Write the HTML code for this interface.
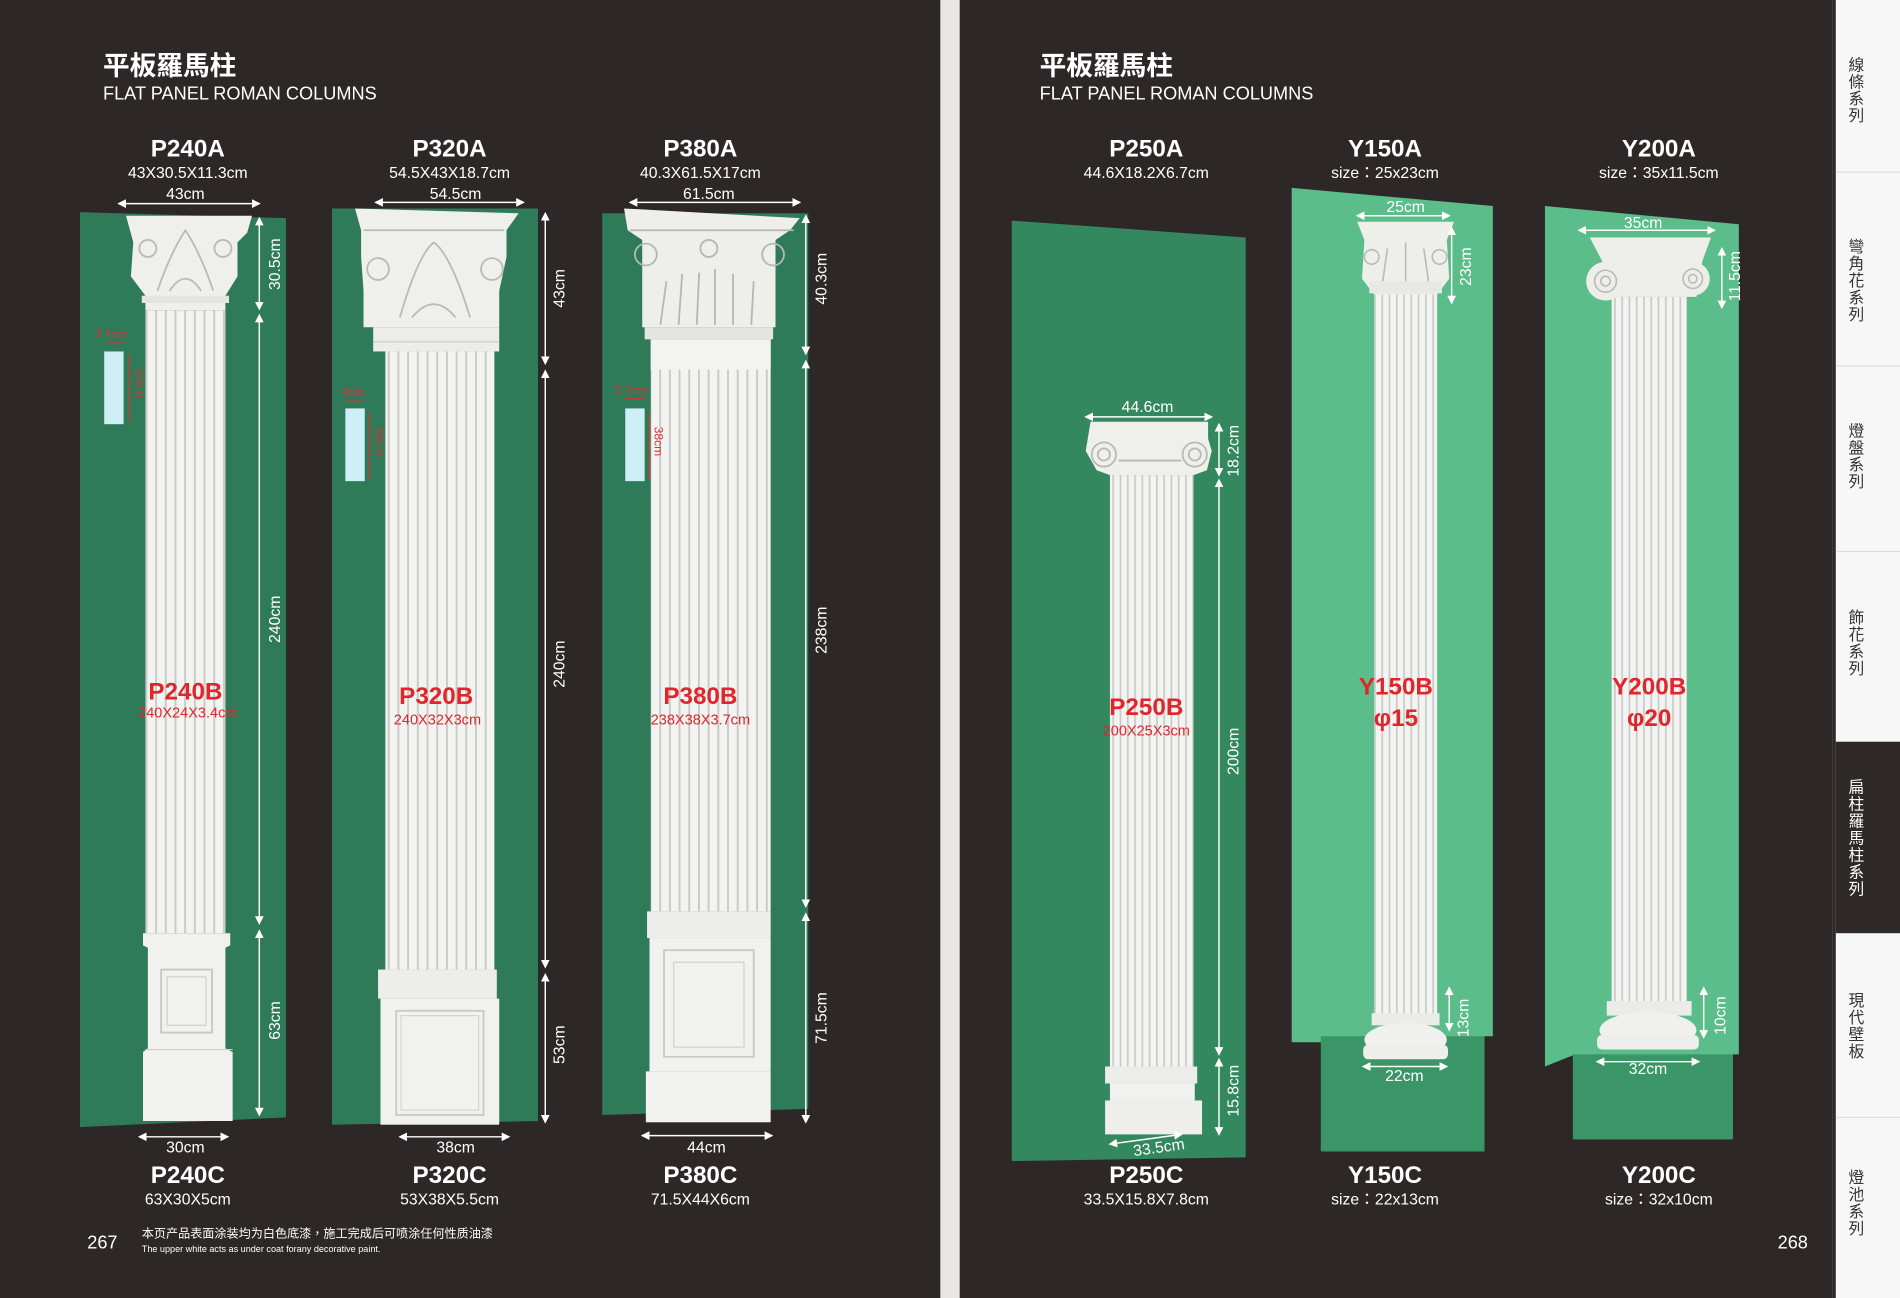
<!DOCTYPE html>
<html><head><meta charset="utf-8"><style>
html,body{margin:0;padding:0;background:#2d2827;}
svg{display:block;}
text{font-family:"Liberation Sans","Noto Sans CJK TC",sans-serif;}
</style></head><body>
<svg width="1900" height="1298" viewBox="0 0 1568 1071" preserveAspectRatio="none" xmlns="http://www.w3.org/2000/svg">
<defs>
<pattern id="fl" patternUnits="userSpaceOnUse" width="8" height="10"><rect width="8" height="10" fill="#f3f3f1"/><rect x="0" width="1.6" height="10" fill="#c9cbc8"/></pattern>
<pattern id="fl2" patternUnits="userSpaceOnUse" width="6" height="10"><rect width="6" height="10" fill="#f3f3f1"/><rect x="0" width="1.4" height="10" fill="#c8cac7"/></pattern>
<marker id="a" markerWidth="6" markerHeight="6" refX="5" refY="3" orient="auto-start-reverse"><path d="M0,0 L6,3 L0,6 Z" fill="#fff"/></marker>
</defs>
<rect width="1568" height="1071" fill="#2d2827"/>
<rect x="776" y="0" width="16" height="1071" fill="#e9e7e4"/>
<rect x="1512" y="0" width="56" height="1071" fill="#f7f7f7"/>
<rect x="1512" y="0" width="3" height="1071" fill="#2d2827"/>
<rect x="1515" y="612" width="53" height="158" fill="#2f2928"/>
<g stroke="#ddd" stroke-width="1"><line x1="1515" y1="142" x2="1568" y2="142"/><line x1="1515" y1="302" x2="1568" y2="302"/><line x1="1515" y1="455" x2="1568" y2="455"/><line x1="1515" y1="922" x2="1568" y2="922"/></g>
<g font-size="13" fill="#333" text-anchor="middle">
<text x="1532" y="58">線</text><text x="1532" y="72">條</text><text x="1532" y="86">系</text><text x="1532" y="100">列</text>
<text x="1532" y="208">彎</text><text x="1532" y="222">角</text><text x="1532" y="236">花</text><text x="1532" y="250">系</text><text x="1532" y="264">列</text>
<text x="1532" y="360">燈</text><text x="1532" y="374">盤</text><text x="1532" y="388">系</text><text x="1532" y="402">列</text>
<text x="1532" y="514">飾</text><text x="1532" y="528">花</text><text x="1532" y="542">系</text><text x="1532" y="556">列</text>
<g fill="#fff"><text x="1532" y="654">扁</text><text x="1532" y="668">柱</text><text x="1532" y="682">羅</text><text x="1532" y="696">馬</text><text x="1532" y="710">柱</text><text x="1532" y="724">系</text><text x="1532" y="738">列</text></g>
<text x="1532" y="830">現</text><text x="1532" y="844">代</text><text x="1532" y="858">壁</text><text x="1532" y="872">板</text>
<text x="1532" y="976">燈</text><text x="1532" y="990">池</text><text x="1532" y="1004">系</text><text x="1532" y="1018">列</text>
</g>

<g fill="#fff">
<text x="85" y="62" font-size="22" font-weight="bold">平板羅馬柱</text>
<text x="85" y="82" font-size="15">FLAT PANEL ROMAN COLUMNS</text>
<text x="858" y="62" font-size="22" font-weight="bold">平板羅馬柱</text>
<text x="858" y="82" font-size="15">FLAT PANEL ROMAN COLUMNS</text>
</g>
<g fill="#fff" text-anchor="middle">
<g font-size="20" font-weight="bold"><text x="155" y="129">P240A</text><text x="371" y="129">P320A</text><text x="578" y="129">P380A</text>
<text x="946" y="129">P250A</text><text x="1143" y="129">Y150A</text><text x="1369" y="129">Y200A</text>
<text x="155" y="976">P240C</text><text x="371" y="976">P320C</text><text x="578" y="976">P380C</text>
<text x="946" y="976">P250C</text><text x="1143" y="976">Y150C</text><text x="1369" y="976">Y200C</text></g>
<g font-size="13"><text x="155" y="147">43X30.5X11.3cm</text><text x="371" y="147">54.5X43X18.7cm</text><text x="578" y="147">40.3X61.5X17cm</text>
<text x="946" y="147">44.6X18.2X6.7cm</text><text x="1143" y="147">size：25x23cm</text><text x="1369" y="147">size：35x11.5cm</text>
<text x="155" y="994">63X30X5cm</text><text x="371" y="994">53X38X5.5cm</text><text x="578" y="994">71.5X44X6cm</text>
<text x="946" y="994">33.5X15.8X7.8cm</text><text x="1143" y="994">size：22x13cm</text><text x="1369" y="994">size：32x10cm</text></g>
</g>
<g fill="#fff"><text x="72" y="1030" font-size="15">267</text><text x="1467" y="1030" font-size="15">268</text>
<text x="117" y="1021" font-size="10">本页产品表面涂装均为白色底漆，施工完成后可喷涂任何性质油漆</text>
<text x="117" y="1033" font-size="7.5">The upper white acts as under coat forany decorative paint.</text></g>

<g fill="#2e7a59">
<polygon points="66,175 236,180 236,922 66,930"/>
<polygon points="274,172 444,172 444,925 274,928"/>
<polygon points="497,176 667,176 667,915 497,920"/>
</g>
<rect x="120" y="256" width="66" height="514" fill="url(#fl)"/>
<path d="M104,178 L208,178 L204,192 L196,200 L196,228 L186,244 L186,256 L120,256 L120,244 L108,228 L110,200 Z" fill="#efefec"/>
<g fill="none" stroke="#b9bbb7" stroke-width="1.5"><circle cx="122" cy="205" r="7"/><circle cx="184" cy="205" r="7"/><path d="M130,240 Q140,210 153,190 Q166,210 176,240"/><path d="M140,240 Q153,220 166,240"/></g>
<rect x="117" y="244" width="72" height="6" fill="#e4e4e1"/>
<path d="M118,770 L190,770 L190,780 L186,782 L186,865 L192,868 L192,925 L118,925 L118,868 L122,865 L122,782 L118,780 Z" fill="#f1f1ef"/>
<rect x="133" y="800" width="42" height="52" fill="none" stroke="#c5c7c4" stroke-width="1.5"/><rect x="138" y="806" width="32" height="40" fill="none" stroke="#d0d1ce"/>
<line x1="120" y1="866" x2="192" y2="866" stroke="#ccc"/>
<rect x="318" y="290" width="90" height="510" fill="url(#fl)"/>
<path d="M293,172 L428,176 L418,190 L418,212 L412,240 L412,270 L300,270 L300,240 L298,212 L298,190 Z" fill="#efefec"/>
<g fill="none" stroke="#b9bbb7" stroke-width="1.5"><circle cx="312" cy="222" r="9"/><circle cx="406" cy="222" r="9"/><path d="M330,262 Q345,210 358,200 Q372,210 388,262"/><path d="M340,262 Q358,240 376,262"/><path d="M300,190 L416,190"/></g>
<rect x="308" y="270" width="104" height="20" fill="#ececea"/><line x1="308" y1="282" x2="412" y2="282" stroke="#ccc"/>
<rect x="312" y="800" width="98" height="24" fill="#ededeb"/>
<rect x="314" y="824" width="98" height="104" fill="#f1f1ef"/><rect x="327" y="834" width="72" height="86" fill="none" stroke="#c8c9c6" stroke-width="1.5"/><rect x="331" y="838" width="64" height="78" fill="none" stroke="#d4d5d2"/>
<rect x="537" y="280" width="99" height="472" fill="url(#fl)"/>
<rect x="537" y="280" width="99" height="25" fill="#f3f3f1"/>
<path d="M515,172 L660,180 L652,190 L640,198 L640,270 L530,270 L530,198 L518,190 Z" fill="#eeeeeb"/>
<g fill="none" stroke="#b5b7b3" stroke-width="1.5"><circle cx="533" cy="210" r="9"/><circle cx="638" cy="210" r="9"/><path d="M520,190 L655,190"/><path d="M545,268 L550,232 M560,268 L563,226 M575,268 L577,225 M590,268 L590,222 M605,268 L605,226 M620,268 L622,232"/><circle cx="585" cy="205" r="7"/></g>
<rect x="532" y="270" width="106" height="10" fill="#e4e4e1"/>
<rect x="534" y="752" width="102" height="22" fill="#ededeb"/>
<rect x="536" y="774" width="100" height="110" fill="#f1f1ef"/><rect x="548" y="784" width="74" height="88" fill="none" stroke="#c8c9c6" stroke-width="1.5"/><rect x="556" y="794" width="58" height="70" fill="none" stroke="#d0d1ce"/>
<rect x="533" y="884" width="103" height="42" fill="#f2f2f0"/>

<g fill="#cfeff7"><rect x="86" y="290" width="16" height="60"/><rect x="285" y="337" width="16" height="60"/><rect x="516" y="337" width="16" height="60"/><rect x="877" y="438" width="14" height="58"/></g>
<g stroke="#d33" stroke-width="1" fill="none"><line x1="107" y1="292" x2="107" y2="348"/><line x1="89" y1="283" x2="102" y2="283"/><line x1="305" y1="340" x2="305" y2="396"/><line x1="285" y1="331" x2="300" y2="331"/><line x1="536" y1="340" x2="536" y2="396"/><line x1="516" y1="329" x2="532" y2="329"/><line x1="894" y1="440" x2="894" y2="495"/><line x1="877" y1="431" x2="891" y2="431"/></g>
<g fill="#d33" font-size="10"><text x="78" y="279">3.4cm</text><text x="282" y="327">3cm</text><text x="507" y="325">3.7cm</text><text x="869" y="426">3cm</text>
<text transform="translate(112,304) rotate(90)">24cm</text><text transform="translate(310,352) rotate(90)">32cm</text><text transform="translate(540,352) rotate(90)">38cm</text><text transform="translate(898,452) rotate(90)">25cm</text></g>

<polygon points="835,182 1028,196 1028,955 835,958" fill="#34885f"/>
<polygon points="1066,155 1232,170 1232,855 1225,855 1225,950 1092,950 1092,860 1066,860" fill="#5bbd89"/>
<polygon points="1090,855 1225,855 1225,950 1090,950" fill="#3a9667"/>
<polygon points="1275,170 1435,185 1435,870 1430,870 1430,940 1300,940 1300,870 1275,880" fill="#5bbd89"/>
<polygon points="1298,870 1430,870 1430,940 1298,940" fill="#3a9667"/>
<rect x="916" y="392" width="69" height="488" fill="url(#fl2)"/>
<path d="M900,348 L997,348 L997,362 L1000,372 L996,388 L985,392 L916,392 L905,388 L896,372 Z" fill="#efefec"/>
<g fill="none" stroke="#b8bab6" stroke-width="1.5"><circle cx="911" cy="375" r="10"/><circle cx="911" cy="375" r="5"/><circle cx="986" cy="375" r="10"/><circle cx="986" cy="375" r="5"/><line x1="923" y1="380" x2="975" y2="380"/></g>
<rect x="912" y="880" width="76" height="14" fill="#ececea"/><rect x="916" y="894" width="70" height="14" fill="#f1f1ef"/><rect x="912" y="908" width="80" height="28" fill="#eeeeec"/>
<rect x="1134" y="240" width="52" height="602" fill="url(#fl2)"/>
<path d="M1120,183 L1200,183 L1194,198 L1196,230 L1186,243 L1134,243 L1124,230 L1126,198 Z" fill="#eeeeeb"/>
<g fill="none" stroke="#b8bab6" stroke-width="1.3"><circle cx="1132" cy="212" r="6"/><circle cx="1188" cy="212" r="6"/><path d="M1140,240 L1145,205 M1160,240 L1160,200 M1180,240 L1175,205"/></g>
<rect x="1130" y="232" width="60" height="10" fill="#e8e8e6"/>
<rect x="1132" y="836" width="56" height="10" fill="#ebebe9"/><ellipse cx="1160" cy="858" rx="34" ry="14" fill="#f0f0ee"/><rect x="1125" y="862" width="70" height="12" rx="4" fill="#eeeeec"/>
<rect x="1330" y="245" width="62" height="585" fill="url(#fl2)"/>
<path d="M1312,196 L1412,196 L1405,215 L1400,245 L1330,245 L1322,215 Z" fill="#eeeeeb"/>
<circle cx="1325" cy="232" r="16" fill="#ededea"/><circle cx="1397" cy="230" r="14" fill="#ededea"/>
<g fill="none" stroke="#b8bab6" stroke-width="1.3"><circle cx="1325" cy="232" r="9"/><circle cx="1325" cy="232" r="4"/><circle cx="1397" cy="230" r="8"/><circle cx="1397" cy="230" r="3.5"/></g>
<rect x="1326" y="826" width="70" height="12" fill="#ebebe9"/><ellipse cx="1360" cy="850" rx="40" ry="15" fill="#f0f0ee"/><rect x="1318" y="854" width="84" height="12" rx="4" fill="#eeeeec"/>

<g fill="#e0262c" text-anchor="middle" font-weight="bold" font-size="20">
<text x="153" y="577">P240B</text><text x="360" y="581">P320B</text><text x="578" y="581">P380B</text><text x="946" y="590">P250B</text>
<text x="1152" y="573">Y150B</text><text x="1152" y="599">φ15</text><text x="1361" y="573">Y200B</text><text x="1361" y="599">φ20</text></g>
<g fill="#e0262c" text-anchor="middle" font-size="12"><text x="155" y="592">240X24X3.4cm</text><text x="361" y="598">240X32X3cm</text><text x="578" y="598">238X38X3.7cm</text><text x="946" y="607">200X25X3cm</text></g>

<g stroke="#fff" stroke-width="1.2" marker-start="url(#a)" marker-end="url(#a)">
<line x1="98" y1="168" x2="214" y2="168"/><line x1="310" y1="167" x2="432" y2="167"/><line x1="520" y1="167" x2="660" y2="167"/>
<line x1="115" y1="938" x2="188" y2="938"/><line x1="330" y1="938" x2="420" y2="938"/><line x1="530" y1="937" x2="637" y2="937"/>
<line x1="214" y1="180" x2="214" y2="255"/><line x1="214" y1="260" x2="214" y2="762"/><line x1="214" y1="768" x2="214" y2="920"/>
<line x1="450" y1="176" x2="450" y2="300"/><line x1="450" y1="306" x2="450" y2="798"/><line x1="450" y1="804" x2="450" y2="926"/>
<line x1="665" y1="178" x2="665" y2="292"/><line x1="665" y1="298" x2="665" y2="748"/><line x1="665" y1="754" x2="665" y2="926"/>
<line x1="896" y1="344" x2="1000" y2="344"/><line x1="1006" y1="350" x2="1006" y2="392"/><line x1="1006" y1="396" x2="1006" y2="870"/><line x1="1006" y1="874" x2="1006" y2="936"/>
<line x1="916" y1="944" x2="975" y2="936"/>
<line x1="1120" y1="178" x2="1196" y2="178"/><line x1="1198" y1="188" x2="1198" y2="250"/><line x1="1196" y1="815" x2="1196" y2="850"/><line x1="1125" y1="880" x2="1194" y2="880"/>
<line x1="1303" y1="190" x2="1415" y2="190"/><line x1="1421" y1="205" x2="1421" y2="254"/><line x1="1406" y1="815" x2="1406" y2="856"/><line x1="1318" y1="876" x2="1402" y2="876"/>
</g>
<g fill="#fff" font-size="13" text-anchor="middle">
<text x="153" y="164">43cm</text><text x="376" y="164">54.5cm</text><text x="585" y="164">61.5cm</text>
<text x="153" y="951">30cm</text><text x="376" y="951">38cm</text><text x="583" y="951">44cm</text>
<text x="947" y="340">44.6cm</text><text x="1160" y="175">25cm</text><text x="1356" y="188">35cm</text>
<text x="1159" y="892">22cm</text><text x="1360" y="886">32cm</text>
<text transform="translate(957,951) rotate(-8)">33.5cm</text>
<text transform="translate(231,218) rotate(-90)">30.5cm</text><text transform="translate(231,511) rotate(-90)">240cm</text><text transform="translate(231,842) rotate(-90)">63cm</text>
<text transform="translate(466,238) rotate(-90)">43cm</text><text transform="translate(466,548) rotate(-90)">240cm</text><text transform="translate(466,862) rotate(-90)">53cm</text>
<text transform="translate(682,230) rotate(-90)">40.3cm</text><text transform="translate(682,520) rotate(-90)">238cm</text><text transform="translate(682,840) rotate(-90)">71.5cm</text>
<text transform="translate(1022,372) rotate(-90)">18.2cm</text><text transform="translate(1022,620) rotate(-90)">200cm</text><text transform="translate(1022,900) rotate(-90)">15.8cm</text>
<text transform="translate(1214,220) rotate(-90)">23cm</text><text transform="translate(1212,840) rotate(-90)">13cm</text>
<text transform="translate(1436,228) rotate(-90)">11.5cm</text><text transform="translate(1424,838) rotate(-90)">10cm</text>
</g>
</svg>
</body></html>
